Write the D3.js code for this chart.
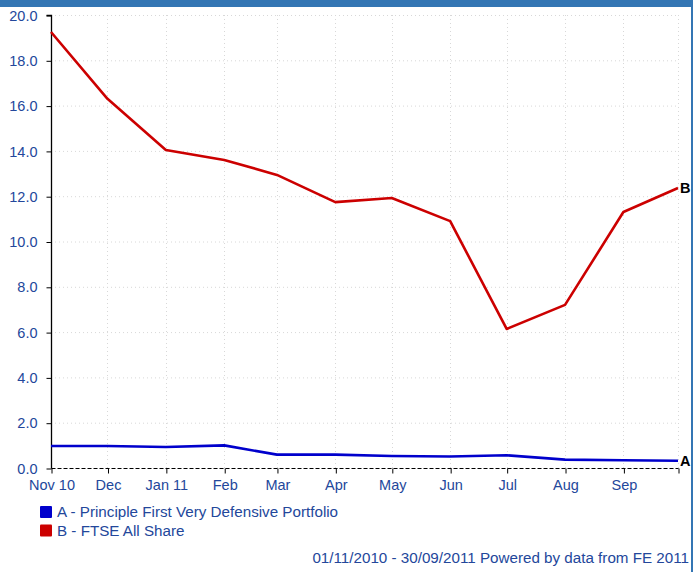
<!DOCTYPE html>
<html>
<head>
<meta charset="utf-8">
<script src="https://cdn.jsdelivr.net/npm/d3@7"></script>
<style>
  html, body { margin: 0; padding: 0; background: #fff; }
  svg { display: block; font-family: "Liberation Sans", Arial, sans-serif; }
</style>
</head>
<body>
<svg id="chart" width="693" height="572"></svg>
<script>
// monthly points, 01/11/2010 - 30/09/2011
var dates = ['2010-11-01', '2010-12-01', '2011-01-01', '2011-02-01', '2011-03-01', '2011-04-01',
             '2011-05-01', '2011-06-01', '2011-07-01', '2011-08-01', '2011-09-01', '2011-09-30'];
var seriesA = [0.97, 0.97, 0.93, 1.00, 0.59, 0.59, 0.53, 0.51, 0.56, 0.37, 0.34, 0.32];
var seriesB = [19.25, 16.30, 14.04, 13.60, 12.94, 11.74, 11.92, 10.90, 6.14, 7.20, 11.30, 12.36];
var tickLabels = ['Nov 10', 'Dec', 'Jan 11', 'Feb', 'Mar', 'Apr', 'May', 'Jun', 'Jul', 'Aug', 'Sep', ''];
var yTicks = [0, 2, 4, 6, 8, 10, 12, 14, 16, 18, 20];
var legendNames = ['A - Principle First Very Defensive Portfolio', 'B - FTSE All Share'];
var endLabels = ['A', 'B'];
var colors = ['#0000cc', '#cc0000'];

var parse = d3.timeParse('%Y-%m-%d');
var dts = dates.map(parse);
var textColor = '#23479b';

var svg = d3.select('#chart');

// frame bits
svg.append('rect').attr('x', 0).attr('y', 0).attr('width', 693).attr('height', 7).attr('fill', '#3476b4');
svg.append('rect').attr('x', 691).attr('y', 0).attr('width', 2).attr('height', 572).attr('fill', '#3476b4');

var x = d3.scaleTime().domain([dts[0], dts[dts.length - 1]]).range([51, 678]);
var y = d3.scaleLinear().domain([0, 20]).range([468, 15]);

// grid
var grid = svg.append('g').attr('stroke', '#d8d8d8').attr('stroke-dasharray', '1,3');
grid.selectAll('line.h').data(yTicks.slice(1)).enter().append('line')
  .attr('x1', 51).attr('x2', 678)
  .attr('y1', function(d) { return y(d) + 0.5; }).attr('y2', function(d) { return y(d) + 0.5; });
grid.selectAll('line.v').data(dts.slice(1)).enter().append('line')
  .attr('x1', function(d) { return Math.round(x(d)) + 0.5; }).attr('x2', function(d) { return Math.round(x(d)) + 0.5; })
  .attr('y1', 15).attr('y2', 468);

// y axis
var yAxis = svg.append('g').attr('transform', 'translate(51.5,0.5)')
  .call(d3.axisLeft(y).tickValues(yTicks).tickSize(5).tickPadding(9).tickFormat(d3.format('.1f')));
yAxis.select('.domain').attr('stroke', '#000').attr('stroke-width', 1.3).attr('d', 'M-5,' + y(20) + 'H0V' + y(0));
yAxis.selectAll('.tick line').attr('stroke', '#000');
yAxis.selectAll('.tick text').attr('fill', textColor).style('font-size', '14.5px');

// x axis
var xAxis = svg.append('g').attr('transform', 'translate(0.5,468.5)')
  .call(d3.axisBottom(x).tickValues(dts).tickSize(5).tickPadding(6)
    .tickFormat(function(d, i) { return tickLabels[i]; }));
xAxis.select('.domain').attr('stroke', '#000').attr('stroke-dasharray', '4,2').attr('d', 'M51,0H678');
xAxis.selectAll('.tick line').attr('stroke', '#000');
xAxis.selectAll('.tick text').attr('fill', textColor).style('font-size', '14.5px');

// lines
var line = d3.line()
  .x(function(d, i) { return x(dts[i]); })
  .y(function(d) { return y(d); });

[seriesA, seriesB].forEach(function(s, k) {
  svg.append('path').datum(s)
    .attr('fill', 'none').attr('stroke', colors[k]).attr('stroke-width', 2.6)
    .attr('stroke-linejoin', 'round').attr('d', line);
  svg.append('text')
    .attr('x', x(dts[dts.length - 1]) + 2)
    .attr('y', y(s[s.length - 1]) + 5)
    .attr('font-weight', 'bold').attr('font-size', '14.5px').attr('fill', '#000')
    .text(endLabels[k]);
});

// legend
var legend = svg.selectAll('g.legend').data(legendNames).enter().append('g')
  .attr('transform', function(d, i) { return 'translate(40,' + (506 + i * 18.5) + ')'; });
legend.append('rect').attr('width', 12).attr('height', 12).attr('rx', 1)
  .attr('fill', function(d, i) { return colors[i]; });
legend.append('text').attr('x', 17).attr('y', 11)
  .attr('fill', textColor).style('font-size', '15.2px')
  .text(function(d) { return d; });

// footer
svg.append('text').attr('x', 689).attr('y', 563).attr('text-anchor', 'end')
  .attr('fill', textColor).style('font-size', '15.2px')
  .text('01/11/2010 - 30/09/2011 Powered by data from FE 2011');
</script>
</body>
</html>
